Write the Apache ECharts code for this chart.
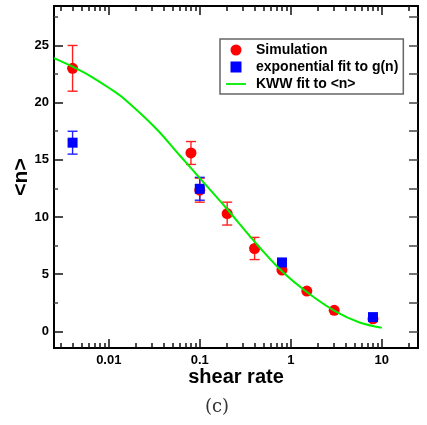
<!DOCTYPE html>
<html><head><meta charset="utf-8">
<script src="https://cdn.jsdelivr.net/npm/echarts@6/dist/echarts.min.js"></script>
<style>html,body{margin:0;padding:0;background:#fff}#c{width:427px;height:425px}</style>
</head><body><div id="c"></div>
<script>
// Simulation (red circles)
const simX = [0.004, 0.08, 0.1, 0.2, 0.4, 0.8, 1.5, 3, 8];
const simY = [23.0, 15.6, 12.35, 10.3, 7.25, 5.37, 3.53, 1.84, 1.1];
const simErr = [2.0, 1.0, 1.05, 1.0, 0.97, 0, 0, 0, 0];
// exponential fit to g(n) (blue squares)
const expX = [0.004, 0.1, 0.8, 8];
const expY = [16.5, 12.47, 6.03, 1.25];
const expErr = [1.0, 1.0, 0, 0];
// KWW fit to <n> (green curve)
const kwwX = [0.0025, 0.004, 0.0062, 0.01, 0.0144, 0.0334, 0.06, 0.1, 0.19, 0.385, 0.79, 1.5, 3.1, 5.7, 10];
const kwwY = [23.9, 23.15, 22.35, 21.3, 20.4, 17.7, 15.4, 13.4, 10.9, 8.0, 5.3, 3.45, 1.75, 0.78, 0.32];
// ticks
const xMajorTicks = [0.01, 0.1, 1, 10];
const xTickLabels = ['0.01', '0.1', '1', '10'];
const xMinorTicks = [0.003,0.004,0.005,0.006,0.007,0.008,0.009,
  0.02,0.03,0.04,0.05,0.06,0.07,0.08,0.09,
  0.2,0.3,0.4,0.5,0.6,0.7,0.8,0.9,
  2,3,4,5,6,7,8,9,20];
const yMajorTicks = [0, 5, 10, 15, 20, 25];
const yTickLabels = ['0', '5', '10', '15', '20', '25'];
const yMinorTicks = [2.5, 7.5, 12.5, 17.5, 22.5, 27.5];
const yRightTicks = [0, 2.5, 5, 7.5, 10, 12.5, 15, 17.5, 20, 22.5, 25, 27.5];
const xTitle = 'shear rate';
const yTitle = '<n>';
const caption = '(c)';

const X_MIN = 0.0025, X_MAX = 25, Y_MIN = -1.45, Y_MAX = 28.45;
const FONT = 'Liberation Sans, Arial, sans-serif';
const gridRect = {left: 54, top: 6, right: 9, bottom: 77};

function fmtX(v) {
  let best = 0;
  for (let i = 0; i < xMajorTicks.length; i++) {
    if (Math.abs(Math.log10(v) - Math.log10(xMajorTicks[i])) < Math.abs(Math.log10(v) - Math.log10(xMajorTicks[best]))) best = i;
  }
  return xTickLabels[best];
}
function fmtY(v) {
  const i = yMajorTicks.findIndex(t => Math.abs(t - v) < 1e-6);
  return i >= 0 ? yTickLabels[i] : '';
}
function errRender(color) {
  return function (params, api) {
    const x = api.value(0), y = api.value(1), e = api.value(2);
    const t = api.coord([x, y + e]), b = api.coord([x, y - e]);
    const hw = 5;
    const st = {stroke: color, lineWidth: 1.4};
    return {type: 'group', children: [
      {type: 'line', shape: {x1: t[0], y1: t[1], x2: b[0], y2: b[1]}, style: st},
      {type: 'line', shape: {x1: t[0] - hw, y1: t[1], x2: t[0] + hw, y2: t[1]}, style: st},
      {type: 'line', shape: {x1: b[0] - hw, y1: b[1], x2: b[0] + hw, y2: b[1]}, style: st}
    ]};
  };
}
const tickStyle = {color: '#111', width: 1.5};
const noLine = {show: false, onZero: false};
const option = {
  animation: false,
  backgroundColor: '#fff',
  grid: [
    Object.assign({show: true, borderColor: '#000', borderWidth: 2, backgroundColor: 'transparent', containLabel: false, outerBoundsMode: 'none'}, gridRect),
    Object.assign({show: false, containLabel: false, outerBoundsMode: 'none'}, gridRect)
  ],
  xAxis: [
    {type: 'log', gridIndex: 0, position: 'bottom', min: X_MIN, max: X_MAX,
     axisLine: noLine, splitLine: {show: false}, minorTick: {show: false},
     axisTick: {show: true, inside: true, length: 9, lineStyle: tickStyle, customValues: xMajorTicks},
     axisLabel: {show: true, margin: 6, customValues: xMajorTicks, formatter: fmtX,
                 color: '#000', fontFamily: FONT, fontWeight: 'bold', fontSize: 13}},
    {type: 'log', gridIndex: 0, position: 'top', min: X_MIN, max: X_MAX,
     axisLine: noLine, splitLine: {show: false}, axisLabel: {show: false},
     axisTick: {show: true, inside: true, length: 9, lineStyle: tickStyle, customValues: xMajorTicks}},
    {type: 'log', gridIndex: 1, position: 'bottom', min: X_MIN, max: X_MAX,
     axisLine: noLine, splitLine: {show: false}, axisLabel: {show: false},
     axisTick: {show: true, inside: true, length: 5, lineStyle: tickStyle, customValues: xMinorTicks}},
    {type: 'log', gridIndex: 1, position: 'top', min: X_MIN, max: X_MAX,
     axisLine: noLine, splitLine: {show: false}, axisLabel: {show: false},
     axisTick: {show: true, inside: true, length: 5, lineStyle: tickStyle, customValues: xMinorTicks}}
  ],
  yAxis: [
    {type: 'value', gridIndex: 0, position: 'left', min: Y_MIN, max: Y_MAX,
     axisLine: noLine, splitLine: {show: false},
     axisTick: {show: true, inside: true, length: 9, lineStyle: tickStyle, customValues: yMajorTicks},
     axisLabel: {show: true, margin: 5, customValues: yMajorTicks, formatter: fmtY,
                 color: '#000', fontFamily: FONT, fontWeight: 'bold', fontSize: 13}},
    {type: 'value', gridIndex: 0, position: 'right', min: Y_MIN, max: Y_MAX,
     axisLine: noLine, splitLine: {show: false}, axisLabel: {show: false},
     axisTick: {show: true, inside: true, length: 9, lineStyle: {color: '#444', width: 1.5}, customValues: yRightTicks}},
    {type: 'value', gridIndex: 1, position: 'left', min: Y_MIN, max: Y_MAX,
     axisLine: noLine, splitLine: {show: false}, axisLabel: {show: false},
     axisTick: {show: true, inside: true, length: 4, lineStyle: {color: '#444', width: 1.5}, customValues: yMinorTicks}}
  ],
  legend: {
    left: 220, top: 39, orient: 'vertical',
    padding: [4, 5, 3, 6], itemGap: 3, itemWidth: 20, itemHeight: 11,
    borderColor: '#666', borderWidth: 1.5, backgroundColor: '#fff',
    textStyle: {color: '#000', fontFamily: FONT, fontWeight: 'bold', fontSize: 14, lineHeight: 14, padding: [0, 0, 0, 5]},
    data: [
      {name: 'Simulation', icon: 'circle'},
      {name: 'exponential fit to g(n)', icon: 'path://M0,0h10v10h-10z'},
      {name: 'KWW fit to <n>', icon: 'path://M0,0h22v2h-22z'}
    ]
  },
  series: [
    {type: 'custom', name: 'simErr', xAxisIndex: 0, yAxisIndex: 0, z: 2,
     renderItem: errRender('#ff2020'), encode: {x: 0, y: 1},
     data: simX.map((x, i) => [x, simY[i], simErr[i]]).filter(d => d[2] > 0)},
    {type: 'custom', name: 'expErr', xAxisIndex: 0, yAxisIndex: 0, z: 2,
     renderItem: errRender('#2020ff'), encode: {x: 0, y: 1},
     data: expX.map((x, i) => [x, expY[i], expErr[i]]).filter(d => d[2] > 0)},
    {type: 'scatter', name: 'Simulation', xAxisIndex: 0, yAxisIndex: 0, z: 3,
     symbol: 'circle', symbolSize: 11, itemStyle: {color: '#ff0000', opacity: 1},
     data: simX.map((x, i) => [x, simY[i]])},
    {type: 'scatter', name: 'exponential fit to g(n)', xAxisIndex: 0, yAxisIndex: 0, z: 4,
     symbol: 'rect', symbolSize: 10, itemStyle: {color: '#0000ff', opacity: 1},
     data: expX.map((x, i) => [x, expY[i]])},
    {type: 'line', name: 'KWW fit to <n>', xAxisIndex: 0, yAxisIndex: 0, z: 5,
     showSymbol: false, symbol: 'none', smooth: 0.35,
     lineStyle: {color: '#00ee00', width: 2}, itemStyle: {color: '#00ee00'},
     data: kwwX.map((x, i) => [x, kwwY[i]])}
  ],
  graphic: [
    {type: 'text', x: 236, y: 377,
     style: {text: xTitle, fontFamily: FONT, fontWeight: 'bold', fontSize: 20, fill: '#000', align: 'center', verticalAlign: 'middle'}},
    {type: 'text', x: 21, y: 177, rotation: Math.PI / 2,
     style: {text: yTitle, fontFamily: FONT, fontWeight: 'bold', fontSize: 21, fill: '#000', align: 'center', verticalAlign: 'middle'}},
    {type: 'text', left: 205, top: 398,
     style: {text: caption, fontFamily: 'DejaVu Serif, serif', fontSize: 18, fill: '#333'}}
  ]
};
const chart = echarts.init(document.getElementById('c'), null, {renderer: 'canvas'});
chart.setOption(option);
</script>
</body></html>
